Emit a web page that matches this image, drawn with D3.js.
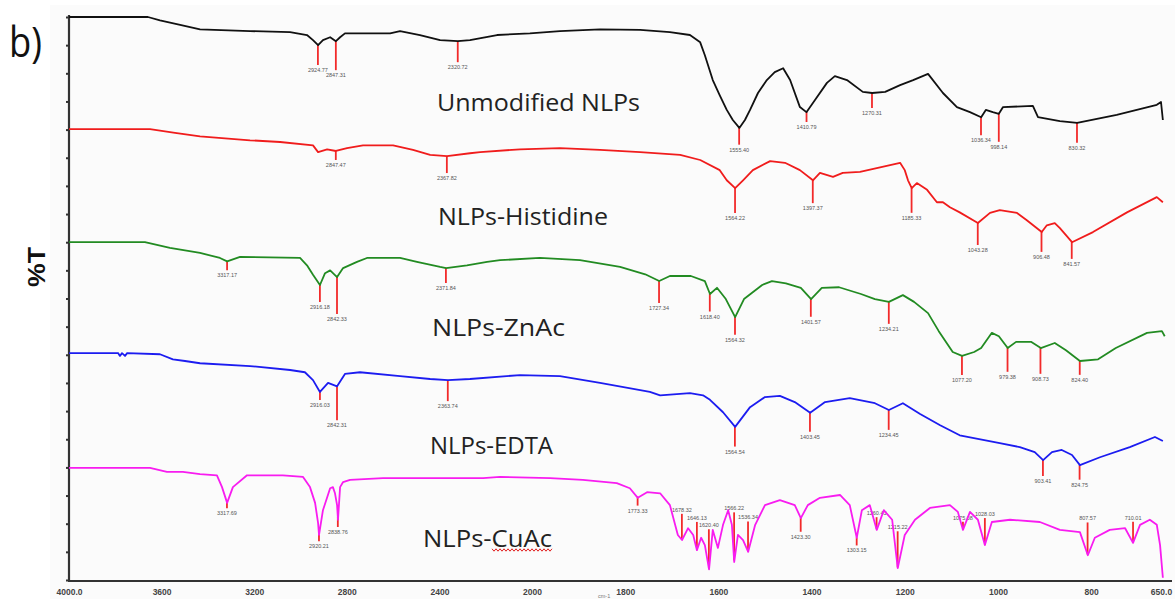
<!DOCTYPE html>
<html>
<head>
<meta charset="utf-8">
<script src="https://cdn.jsdelivr.net/npm/d3@7"></script>
<style>
  body { margin: 0; background: #fff; }
  svg { display: block; }
</style>
</head>
<body>
<svg id="chart" width="1175" height="599"></svg>
<script>
// Wavenumber axis (cm-1): split scale, 400 per division above 2000, 200 below
const xTicks = [4000, 3600, 3200, 2800, 2400, 2000, 1800, 1600, 1400, 1200, 1000, 800, 650];
const xTickLabels = ["4000.0", "3600", "3200", "2800", "2400", "2000", "1800", "1600", "1400", "1200", "1000", "800", "650.0"];
const yTicks = d3.range(0, 101, 5);

const sampleNames = ["Unmodified NLPs", "NLPs-Histidine", "NLPs-ZnAc", "NLPs-EDTA", "NLPs-CuAc"];

// Stacked spectra: [wavenumber, %T]
const unmodifiedNLPs = [
  [4000,100.0],[3659,100.0],[3607,99.4],[3520,98.6],[3434,97.8],[3218,97.5],[3045,97.3],[2972,96.8],
  [2946,95.9],[2924,95.0],[2903,95.9],[2872,96.4],[2847,95.7],[2829,96.4],[2808,97.1],[2613,97.1],
  [2570,97.5],[2484,96.8],[2397,95.9],[2320,95.7],[2268,95.9],[2151,96.8],[2009,97.1],[1940,97.5],
  [1854,97.8],[1768,97.7],[1704,97.3],[1661,96.8],[1639,95.5],[1629,93.2],[1612,88.8],[1597,86.1],
  [1582,83.5],[1569,81.7],[1555,80.3],[1543,81.7],[1532,83.5],[1515,86.5],[1496,88.8],[1479,90.2],
  [1461,90.9],[1446,88.8],[1425,84.0],[1411,83.1],[1393,85.2],[1367,88.3],[1350,89.5],[1324,88.8],
  [1290,86.7],[1270,86.5],[1242,86.7],[1210,87.9],[1182,88.8],[1150,89.9],[1118,86.5],[1088,84.0],
  [1060,83.1],[1036,82.2],[1026,83.5],[1011,83.1],[998,82.8],[989,84.0],[925,84.2],[914,82.2],
  [867,81.5],[830,81.2],[745,82.6],[659,84.4],[650,84.9],[646,81.7]
];
const histidineNLPs = [
  [4000,80.1],[3650,80.1],[3542,79.4],[3434,78.8],[3218,78.1],[3088,77.8],[2946,77.2],[2924,76.0],
  [2885,76.5],[2847,76.2],[2799,76.7],[2730,77.2],[2600,77.2],[2514,76.4],[2440,75.5],[2367,75.3],
  [2268,75.8],[2224,76.0],[2052,76.5],[1940,76.7],[1854,76.4],[1768,76.0],[1682,75.5],[1639,74.6],
  [1597,72.8],[1582,71.0],[1564,69.6],[1547,71.0],[1526,72.8],[1489,74.4],[1457,74.1],[1425,72.8],
  [1397,71.0],[1382,72.3],[1354,71.6],[1333,72.3],[1296,72.5],[1253,73.3],[1210,74.1],[1200,72.8],
  [1193,71.0],[1185,69.6],[1174,70.5],[1152,69.3],[1131,67.1],[1118,67.1],[1103,66.2],[1082,65.3],
  [1043,63.4],[1017,65.2],[996,65.7],[959,65.2],[938,63.9],[906,61.8],[895,63.0],[878,63.4],
  [867,62.5],[841,60.0],[796,61.8],[723,65.3],[659,68.0],[646,67.1]
];
const znAcNLPs = [
  [4000,60.0],[3672,60.0],[3564,59.0],[3434,58.1],[3348,57.2],[3317,56.6],[3261,57.4],[3002,57.2],
  [2972,55.9],[2946,54.2],[2916,52.4],[2894,54.5],[2872,55.0],[2842,53.8],[2816,55.4],[2756,56.5],
  [2713,57.2],[2570,57.2],[2497,56.5],[2397,55.6],[2371,55.4],[2281,55.9],[2194,56.5],[2138,56.8],
  [1983,57.2],[1897,56.8],[1811,55.6],[1757,54.3],[1727,53.1],[1704,54.0],[1659,54.0],[1629,53.1],
  [1618,50.8],[1603,51.9],[1584,49.9],[1564,46.7],[1545,49.9],[1506,52.4],[1485,53.1],[1455,52.7],
  [1423,51.9],[1401,49.9],[1378,51.9],[1341,52.0],[1294,50.8],[1264,49.9],[1234,49.4],[1204,50.6],
  [1180,49.4],[1150,47.4],[1127,44.2],[1097,40.5],[1077,39.8],[1051,40.5],[1036,41.2],[1013,43.9],
  [998,43.3],[979,41.2],[961,42.3],[929,42.3],[908,41.2],[878,42.1],[854,40.8],[824,38.9],
  [785,39.2],[747,41.2],[680,43.9],[648,44.2],[642,43.3]
];
const edtaNLPs = [
  [4000,40.3],[3788,40.3],[3780,39.8],[3771,40.3],[3758,39.8],[3749,40.3],[3607,40.1],[3551,39.2],
  [3499,38.9],[3434,38.5],[3218,38.0],[3045,37.3],[2981,36.9],[2946,35.5],[2916,33.4],[2881,35.0],
  [2842,34.4],[2808,36.6],[2743,36.9],[2570,36.2],[2440,35.7],[2363,35.5],[2268,35.7],[2052,36.4],
  [1940,36.2],[1854,35.0],[1747,33.4],[1725,32.8],[1661,33.2],[1633,32.8],[1618,32.0],[1590,29.8],
  [1564,27.2],[1532,30.7],[1500,32.5],[1468,32.7],[1436,31.6],[1403,29.7],[1371,31.6],[1318,32.3],
  [1264,31.4],[1234,30.2],[1204,31.4],[1167,29.5],[1124,27.5],[1082,25.7],[996,24.3],[953,23.6],
  [921,22.7],[903,21.3],[884,22.7],[863,23.1],[841,22.2],[824,20.4],[781,21.8],[717,23.6],
  [663,25.4],[646,24.7]
];
const cuAcNLPs = [
  [4000,19.9],[3650,19.9],[3577,19.2],[3508,19.2],[3434,18.8],[3361,18.6],[3339,16.5],[3317,13.7],
  [3292,16.5],[3231,18.6],[3076,18.6],[2989,18.3],[2959,16.5],[2937,13.7],[2924,10.1],[2920,8.0],
  [2903,12.4],[2872,16.3],[2860,16.5],[2851,15.4],[2842,13.3],[2838,10.7],[2829,16.5],[2816,17.4],
  [2786,17.8],[2644,18.1],[2211,18.1],[2138,18.3],[1961,18.1],[1891,17.8],[1818,17.2],[1790,16.3],
  [1773,14.6],[1753,15.6],[1725,15.4],[1704,13.3],[1687,8.0],[1678,7.1],[1665,9.2],[1654,8.0],
  [1646,5.3],[1637,7.5],[1629,6.2],[1620,1.9],[1612,8.9],[1601,5.7],[1590,9.8],[1579,12.4],
  [1571,9.8],[1566,3.2],[1558,8.0],[1547,7.1],[1536,5.0],[1521,9.8],[1500,13.3],[1468,14.2],
  [1436,13.3],[1423,11.0],[1408,13.3],[1382,14.6],[1339,15.1],[1318,13.3],[1303,7.5],[1292,12.4],
  [1275,13.3],[1260,8.9],[1245,12.4],[1227,10.7],[1215,2.1],[1200,8.0],[1178,10.7],[1146,12.8],
  [1103,13.3],[1086,12.1],[1075,8.9],[1060,12.1],[1043,10.7],[1028,6.2],[1013,10.3],[974,10.7],
  [910,10.3],[867,8.9],[824,8.5],[807,4.4],[792,7.5],[760,8.9],[727,9.2],[710,6.6],
  [695,9.8],[674,10.7],[659,9.8],[652,6.2],[646,0.4]
];

// Picked peak positions (cm-1) for each spectrum
const unmodifiedPeaks = [2924.77, 2847.31, 2320.72, 1555.40, 1410.79, 1270.31, 1036.34, 998.14, 830.32];
const histidinePeaks = [2847.47, 2367.82, 1564.22, 1397.37, 1185.33, 1043.28, 906.48, 841.57];
const znAcPeaks = [3317.17, 2916.18, 2842.33, 2371.84, 1727.34, 1618.40, 1564.32, 1401.57, 1234.21, 1077.20, 979.38, 908.73, 824.40];
const edtaPeaks = [2916.03, 2842.31, 2363.74, 1564.54, 1403.45, 1234.45, 903.41, 824.75];
const cuAcPeaks = [3317.69, 2920.21, 2838.76, 1773.33, 1678.32, 1646.13, 1620.40, 1566.22, 1536.34, 1423.30, 1303.15, 1260.43, 1215.22, 1075.08, 1028.03, 807.57, 710.01];

// Length (px) of each peak marker below (+) or above (-) the trace
const unmodifiedDrops = [20, 29, 21, 17, 10, 15, 18, 28, 20];
const histidineDrops = [9, 17, 25, 23, 25, 22, 20, 17];
const znAcDrops = [9, 17, 37, 15, 22, 18, 18, 18, 22, 19, 24, 26, 14];
const edtaDrops = [8, 34, 21, 20, 19, 20, 16, 15];
const cuAcDrops = [6, 7, 10, 8, -26, -28, -39, -48, -30, 14, 8, -12, -36, -8, -27, -32, -21];

const traceColors = ["#111111", "#f01c1c", "#228b22", "#1c1cf0", "#f81cf0"];

const spectra = [
  { name: sampleNames[0], data: unmodifiedNLPs, peaks: unmodifiedPeaks, drops: unmodifiedDrops, label: [437, 111, 203] },
  { name: sampleNames[1], data: histidineNLPs, peaks: histidinePeaks, drops: histidineDrops, label: [438, 225, 170] },
  { name: sampleNames[2], data: znAcNLPs, peaks: znAcPeaks, drops: znAcDrops, label: [432, 336, 133] },
  { name: sampleNames[3], data: edtaNLPs, peaks: edtaPeaks, drops: edtaDrops, label: [430, 454, 123] },
  { name: sampleNames[4], data: cuAcNLPs, peaks: cuAcPeaks, drops: cuAcDrops, label: [423, 547, 129] }
];

const svg = d3.select("#chart");
const W = 1175, H = 599;

svg.append("rect").attr("width", W).attr("height", H).attr("fill", "#ffffff");
svg.append("rect").attr("x", 50).attr("y", 5).attr("width", W - 50).attr("height", H - 5).attr("fill", "#fbfbfb");

const x = d3.scaleLinear().domain([4000, 2000, 650]).range([69, 532, 1161]);
const y = d3.scaleLinear().domain([0, 100]).range([580, 17]);

// Axes
const yAxis = d3.axisLeft(y).tickValues(yTicks).tickSize(3).tickFormat("");
const gy = svg.append("g").attr("transform", "translate(69,0)").call(yAxis);
gy.select(".domain").remove();
gy.selectAll(".tick line").attr("stroke", "#333").attr("stroke-width", 2);
svg.append("line").attr("x1", 69).attr("x2", 69).attr("y1", 15).attr("y2", 581)
  .attr("stroke", "#333").attr("stroke-width", 2.2);

const xAxis = d3.axisBottom(x).tickValues(xTicks).tickSize(0).tickPadding(8)
  .tickFormat((d, i) => xTickLabels[i]);
const gx = svg.append("g").attr("transform", "translate(0,581)").call(xAxis);
gx.select(".domain").remove();
gx.selectAll(".tick text")
  .attr("font-family", "'Liberation Sans', Arial, sans-serif")
  .attr("font-size", 8.5).attr("font-weight", "bold").attr("fill", "#444");
svg.append("line").attr("x1", 68).attr("x2", 1172).attr("y1", 581).attr("y2", 581)
  .attr("stroke", "#333").attr("stroke-width", 2.2);

// unit caption under the wavenumber labels
svg.append("text").attr("x", 598).attr("y", 598)
  .attr("font-family", "'Liberation Sans', Arial, sans-serif").attr("font-size", 5.5)
  .attr("fill", "#777").text("cm-1");

// %T at a wavenumber by linear interpolation along the trace
function valueAt(data, wn) {
  for (let i = 0; i < data.length - 1; i++) {
    const a = data[i], b = data[i + 1];
    if (wn <= a[0] && wn >= b[0]) {
      const t = (a[0] - wn) / (a[0] - b[0] || 1);
      return a[1] + t * (b[1] - a[1]);
    }
  }
  return data[data.length - 1][1];
}

const line = d3.line().x(d => x(d[0])).y(d => y(d[1]));
const fmt = d3.format(".2f");

spectra.forEach((s, k) => {
  const g = svg.append("g");
  // peak markers and their labels
  s.peaks.forEach((p, i) => {
    const px = x(p), py = y(valueAt(s.data, p));
    const drop = s.drops[i];
    g.append("line").attr("x1", px).attr("x2", px).attr("y1", py).attr("y2", py + drop)
      .attr("stroke", "#f22a2a").attr("stroke-width", 1.8);
    g.append("text").attr("x", px).attr("y", drop > 0 ? py + drop + 7 : py + drop - 2)
      .attr("text-anchor", "middle")
      .attr("font-family", "'Liberation Sans', Arial, sans-serif")
      .attr("font-size", 5.5).attr("fill", "#555")
      .text(fmt(p));
  });
  g.append("path").datum(s.data).attr("d", line)
    .attr("fill", "none").attr("stroke", traceColors[k]).attr("stroke-width", 1.8)
    .attr("stroke-linejoin", "round");
  // sample name
  svg.append("text").attr("x", s.label[0]).attr("y", s.label[1])
    .attr("font-family", "'Open Sans', 'Noto Sans', sans-serif").attr("font-size", 24)
    .attr("textLength", s.label[2]).attr("lengthAdjust", "spacingAndGlyphs")
    .attr("fill", "#222").text(s.name);
});

// spell-check squiggle under "CuAc"
const squiggle = d3.range(492, 553, 2).map((v, i) => [v, 550 + (i % 2 ? 1.2 : -1.2)]);
svg.append("path").datum(squiggle).attr("d", d3.line())
  .attr("fill", "none").attr("stroke", "#e02020").attr("stroke-width", 1);

// panel letter and axis title
svg.append("text").attr("x", 9).attr("y", 57)
  .attr("font-family", "'Open Sans', 'Noto Sans', sans-serif").attr("font-size", 42)
  .attr("textLength", 33).attr("lengthAdjust", "spacingAndGlyphs")
  .attr("fill", "#111").text("b)");
svg.append("text").attr("transform", "translate(45,287) rotate(-90)")
  .attr("font-family", "'Liberation Sans', Arial, sans-serif").attr("font-size", 24)
  .attr("font-weight", "bold").attr("textLength", 40).attr("lengthAdjust", "spacingAndGlyphs")
  .attr("fill", "#111").text("%T");
</script>
</body>
</html>
